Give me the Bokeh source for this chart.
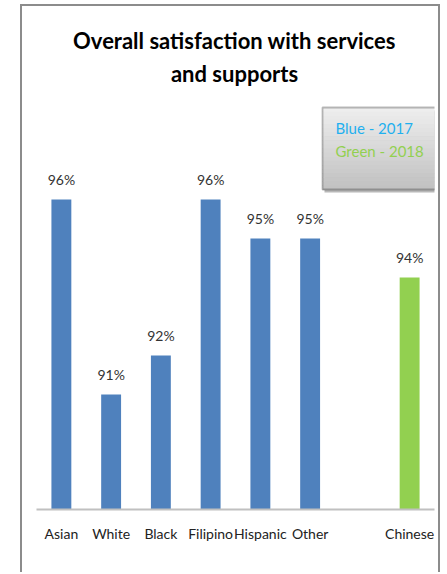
from bokeh.plotting import figure
from bokeh.models import FactorRange, Range1d, ColumnDataSource, LabelSet, Label, BoxAnnotation
from bokeh.core.properties import value
from bokeh.embed import file_html
from bokeh.resources import INLINE

# ---- data ----
groups_2017 = ["Asian", "White", "Black", "Filipino", "Hispanic", "Other"]
values_2017 = [96, 91, 92, 96, 95, 95]
groups_2018 = ["Chinese"]
values_2018 = [94]
spacer = [" "]
title_lines = ["Overall satisfaction with services", "and supports"]
legend_lines = ["Blue - 2017", "Green - 2018"]

FONT = "Lato"
BLUE = "#4f81bd"
GREEN = "#92d050"
BASE = 88.05

factors = groups_2017 + spacer + groups_2018

# canvas sits inside a bordered box at page (22, 6)
p = figure(width=420, height=568, x_range=FactorRange(*factors, range_padding=0),
           y_range=Range1d(BASE, BASE + 503 / 39), output_backend="svg", toolbar_location=None,
           min_border_left=14, min_border_right=8, min_border_top=0, min_border_bottom=65)
p.margin = (4, 0, 0, 20)
p.styles = {"border-top": "2px solid #8c8c8c", "border-left": "2px solid #8c8c8c",
            "border-right": "2px solid #8c8c8c"}
p.title = None
p.outline_line_color = None
p.xgrid.grid_line_color = None
p.ygrid.grid_line_color = None
p.yaxis.visible = False
p.xaxis.axis_line_color = "#c0c0c0"
p.xaxis.axis_line_width = 2
p.xaxis.major_tick_line_color = None
p.xaxis.minor_tick_line_color = None
p.xaxis.major_label_text_font = FONT
p.xaxis.major_label_text_font_size = "14px"
p.xaxis.major_label_text_color = "#222222"
p.xaxis.major_label_standoff = 9

src17 = ColumnDataSource(dict(x=groups_2017, top=values_2017,
                              lab=[f"{v}%" for v in values_2017]))
src18 = ColumnDataSource(dict(x=groups_2018, top=values_2018,
                              lab=[f"{v}%" for v in values_2018]))

p.vbar(x="x", top="top", bottom=BASE, width=0.4, source=src17, color=BLUE, line_color=None)
p.vbar(x="x", top="top", bottom=BASE, width=0.4, source=src18, color=GREEN, line_color=None)

for s in (src17, src18):
    p.add_layout(LabelSet(x="x", y="top", text="lab", source=s, y_offset=11,
                          text_align="center", text_baseline="bottom",
                          text_font=value(FONT), text_font_size="14px", text_color="#333333"))

OX, OY = 22, 6  # page offset of the canvas

# title
for i, t in enumerate(title_lines):
    p.add_layout(Label(x=232 - OX, y=38 + 33 * i - OY, x_units="canvas", y_units="canvas",
                       text=t, text_align="center", text_baseline="middle", text_font=FONT,
                       text_font_style="bold", text_font_size="22px", text_color="#000000"))

# legend box: shadow, gradient fill, border
L, R, T, B = 320 - OX, 434 - OX, 105 - OY, 187 - OY
p.add_layout(BoxAnnotation(left=L + 2, right=R + 3, top=T + 3, bottom=B + 3,
                           left_units="canvas", right_units="canvas",
                           top_units="canvas", bottom_units="canvas",
                           fill_color="#9a9a9a", fill_alpha=0.7, line_color=None, level="overlay"))
n = 20
for k in range(n):
    g = int(0xee - (0xee - 0xc2) * k / (n - 1))
    p.add_layout(BoxAnnotation(left=L, right=R, top=T + (B - T) * k / n,
                               bottom=T + (B - T) * (k + 1) / n + 0.5,
                               left_units="canvas", right_units="canvas",
                               top_units="canvas", bottom_units="canvas",
                               fill_color=f"#{g:02x}{g:02x}{g:02x}", fill_alpha=1,
                               line_color=None, level="overlay"))
p.add_layout(BoxAnnotation(left=L, right=R, top=T, bottom=B,
                           left_units="canvas", right_units="canvas",
                           top_units="canvas", bottom_units="canvas",
                           fill_alpha=0, line_color="#1a1a1a", line_width=1.8, level="overlay"))
leg_colors = ["#1fb0ef", GREEN]
for i, t in enumerate(legend_lines):
    p.add_layout(Label(x=333 - OX, y=125 + 23 * i - OY, x_units="canvas", y_units="canvas",
                       text=t, text_align="left", text_baseline="middle", text_font=FONT,
                       text_font_size="15px", text_color=leg_colors[i], level="overlay"))

open("out.html", "w").write(file_html(p, INLINE))
